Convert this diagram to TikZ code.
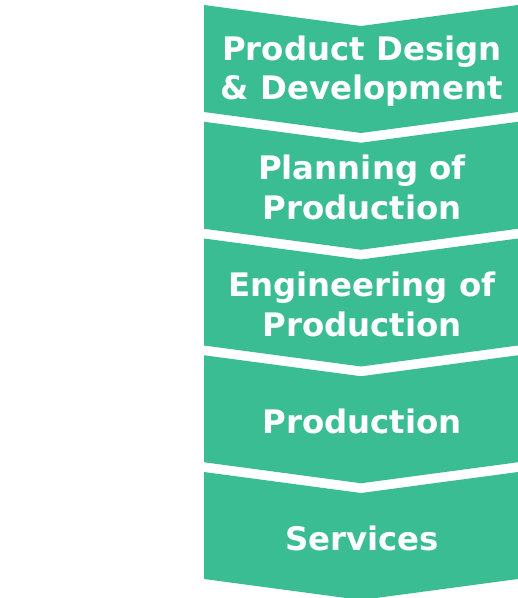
\documentclass[tikz,border=0pt]{standalone}
\usepackage{fontspec}
\usepackage{tikz}
\newfontfamily\stagefont{DejaVu Sans}
\definecolor{stagegreen}{RGB}{59,189,147}
\tikzset{
  chev/.style={fill=stagegreen,draw=none},
  stagetext/.style={text=white,align=center,inner sep=0pt,
                    font=\stagefont\bfseries\fontsize{32.5}{40}\selectfont},
}

\begin{document}
\begin{tikzpicture}[x=1bp,y=-1bp]
  \useasboundingbox (0,0) rectangle (518,598);
  \foreach \i/\txt in {0/{Product Design\\\& Development},
                       1/{Planning of\\Production},
                       2/{Engineering of\\Production},
                       3/{Production},
                       4/{Services}}{
    \pgfmathsetmacro\yt{5+116.75*\i}
    \fill[chev] (204,\yt) -- (361,\yt+21) -- (518,\yt) -- (518,\yt+107)
       -- (361,\yt+128) -- (204,\yt+107) -- cycle;
    \node[stagetext] (stage\i) at (362,\yt+66) {\txt};
  }
\end{tikzpicture}
\end{document}
